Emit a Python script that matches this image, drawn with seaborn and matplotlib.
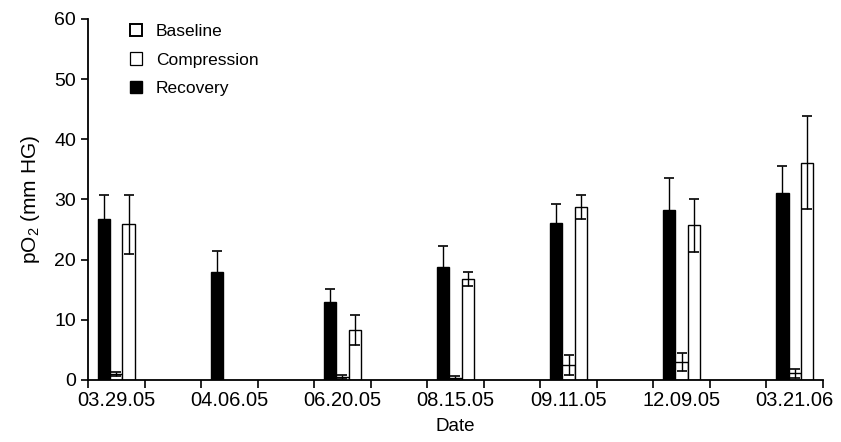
import numpy as np
import pandas as pd
import matplotlib
matplotlib.use("Agg")
import matplotlib.pyplot as plt
from matplotlib.patches import Patch
import seaborn as sns

# Values (pO2, mm Hg)
dates = ["03.29.05", "04.06.05", "06.20.05", "08.15.05", "09.11.05", "12.09.05", "03.21.06"]
recovery = [26.7, 17.9, 12.9, 18.8, 26.1, 28.3, 31.0]
recovery_err = [4.0, 3.6, 2.2, 3.5, 3.2, 5.2, 4.5]
compression = [1.0, np.nan, 0.5, 0.4, 2.5, 3.0, 1.1]
compression_err = [0.4, np.nan, 0.4, 0.2, 1.7, 1.5, 0.8]
baseline = [25.9, np.nan, 8.3, 16.8, 28.8, 25.7, 36.1]
baseline_err = [4.9, np.nan, 2.5, 1.2, 2.0, 4.4, 7.7]

conditions = ["Recovery", "Compression", "Baseline"]
fills = {"Recovery": "black", "Compression": "white", "Baseline": "white"}

df = pd.concat([
    pd.DataFrame({"date": dates, "cond": "Recovery", "value": recovery, "err": recovery_err}),
    pd.DataFrame({"date": dates, "cond": "Compression", "value": compression, "err": compression_err}),
    pd.DataFrame({"date": dates, "cond": "Baseline", "value": baseline, "err": baseline_err}),
], ignore_index=True).dropna()

sns.set_theme(style="ticks")
plt.rcParams["font.family"] = ["Liberation Sans", "DejaVu Sans"]
plt.rcParams["mathtext.fontset"] = "custom"
plt.rcParams["mathtext.rm"] = "Liberation Sans"
plt.rcParams["text.color"] = "black"
plt.rcParams["axes.labelcolor"] = "black"
plt.rcParams["xtick.color"] = "black"
plt.rcParams["ytick.color"] = "black"

fig = plt.figure(figsize=(8.41, 4.42), dpi=100)
ax = fig.add_axes([0.1046, 0.1403, 0.874, 0.817])

sns.barplot(data=df, x="date", y="value", hue="cond", order=dates,
            hue_order=conditions, palette=fills, width=0.33,
            edgecolor="black", linewidth=1.0, errorbar=None, legend=False, ax=ax)

# error bars placed on the bars seaborn drew
for cont, cond in zip(ax.containers, conditions):
    sub = df[df["cond"] == cond]
    for bar, (_, row) in zip(cont.patches, sub.iterrows()):
        xc = bar.get_x() + bar.get_width() / 2
        ax.errorbar(xc, row["value"], yerr=row["err"], fmt="none",
                    ecolor="black", elinewidth=1.0, capsize=3.5, capthick=1.2, zorder=3)

ax.set_xlim(-0.25, len(dates) - 0.75)
ax.set_ylim(0, 60)
ax.set_yticks(np.arange(0, 61, 10))
ax.set_xticks(range(len(dates)))
ax.set_xticklabels(dates)
ax.set_xticks(np.arange(-0.25, len(dates) - 0.7, 0.5), minor=True)
ax.tick_params(axis="x", which="major", length=0, labelsize=14.5, pad=8)
ax.tick_params(axis="x", which="minor", length=6, width=1.2)
ax.tick_params(axis="y", length=5, width=1.2, labelsize=14)
for s in ["left", "bottom"]:
    ax.spines[s].set_linewidth(1.3)
    ax.spines[s].set_color("black")
sns.despine(ax=ax)

ax.set_xlabel("Date", fontsize=13.5, labelpad=6)
ax.set_ylabel(r"pO$_{\mathregular{2}}$ (mm HG)", fontsize=15, labelpad=9)

handles = [
    Patch(facecolor="white", edgecolor="black", linewidth=1.4, label="Baseline"),
    Patch(facecolor="white", edgecolor="black", linewidth=0.9, label="Compression"),
    Patch(facecolor="black", edgecolor="black", label="Recovery"),
]
ax.legend(handles=handles, loc="upper left", bbox_to_anchor=(0.036, 1.03), frameon=False,
          fontsize=12.5, handlelength=0.7, handleheight=0.7, handletextpad=0.8, labelspacing=0.78)

fig.savefig("out.png", dpi=100)
